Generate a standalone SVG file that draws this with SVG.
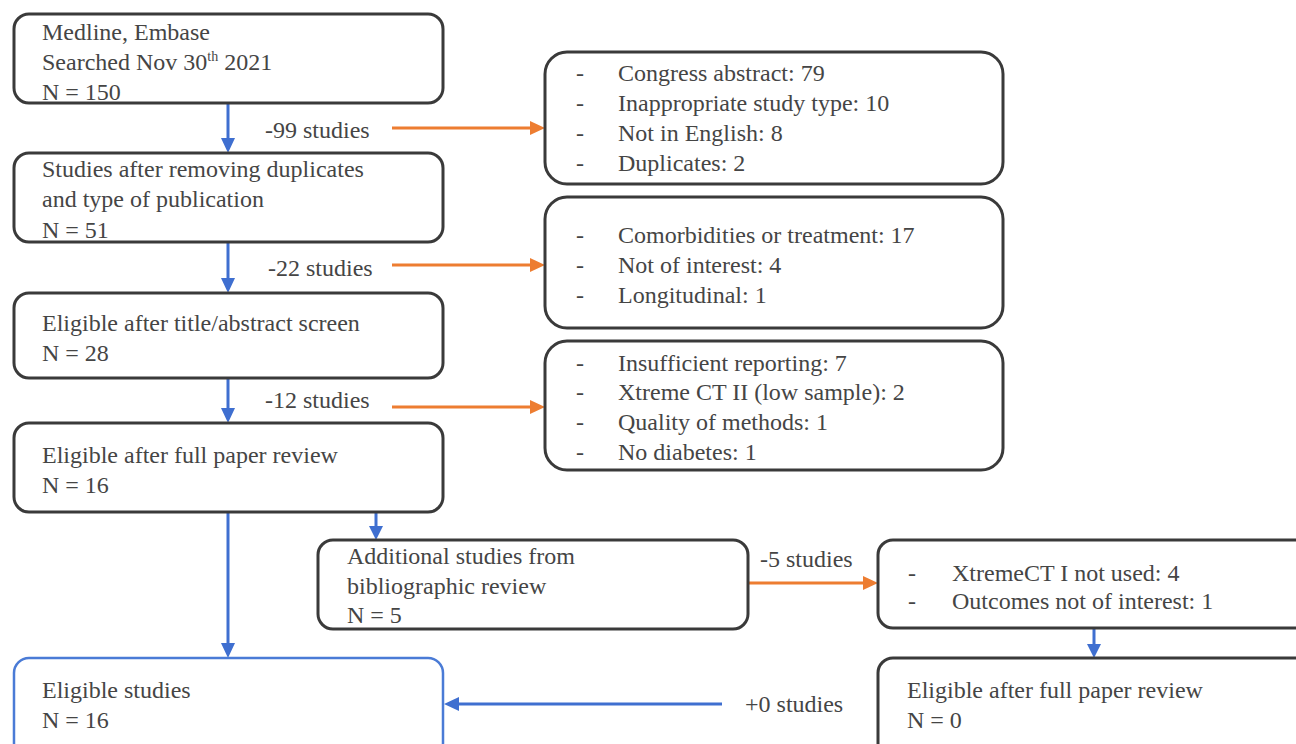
<svg xmlns="http://www.w3.org/2000/svg" width="1296" height="744" viewBox="0 0 1296 744">
<defs>
<style>
text{font-family:'Liberation Serif','Times New Roman',Times,serif;font-size:24px;fill:#454545}
.box{fill:#fff;stroke:#3a3a3a;stroke-width:3}
.bbox{fill:#fff;stroke:#4a7bd6;stroke-width:2.5}
.cb{stroke:#3f6fd0;stroke-width:3;fill:none}
.co{stroke:#ed7d31;stroke-width:3;fill:none}
.hb{fill:#3f6fd0}
.ho{fill:#ed7d31}
</style>
</defs>
<rect width="1296" height="744" fill="#fff"/>
<g id="connectors">
<line class="cb" x1="228" y1="104" x2="228" y2="140"/><polygon class="hb" points="221,138 235,138 228,153"/>
<line class="cb" x1="228" y1="243" x2="228" y2="280"/><polygon class="hb" points="221,278 235,278 228,293"/>
<line class="cb" x1="228" y1="378" x2="228" y2="410"/><polygon class="hb" points="221,408 235,408 228,423"/>
<line class="cb" x1="228" y1="513" x2="228" y2="645"/><polygon class="hb" points="221,643 235,643 228,658"/>
<line class="cb" x1="376" y1="513" x2="376" y2="528"/><polygon class="hb" points="369,526 383,526 376,540"/>
<line class="cb" x1="1094" y1="629" x2="1094" y2="646"/><polygon class="hb" points="1087,644 1101,644 1094,658"/>
<line class="cb" x1="722" y1="704" x2="456" y2="704"/><polygon class="hb" points="459,697 459,711 444,704"/>
<line class="co" x1="392" y1="128" x2="532" y2="128"/><polygon class="ho" points="530,121 530,135 545,128"/>
<line class="co" x1="392" y1="265" x2="532" y2="265"/><polygon class="ho" points="530,258 530,272 545,265"/>
<line class="co" x1="392" y1="407" x2="532" y2="407"/><polygon class="ho" points="530,400 530,414 545,407"/>
<line class="co" x1="748" y1="583" x2="865" y2="583"/><polygon class="ho" points="863,576 863,590 878,583"/>
<text x="265" y="138">-99 studies</text>
<text x="268" y="276">-22 studies</text>
<text x="265" y="408">-12 studies</text>
<text x="760" y="567">-5 studies</text>
<text x="745" y="712">+0 studies</text>
</g>
<g id="n1"><rect class="box" x="14" y="14" width="429" height="89" rx="15"/>
<text x="42" y="40">Medline, Embase</text>
<text x="42" y="70">Searched Nov 30<tspan font-size="14" dy="-9">th</tspan><tspan dy="9"> 2021</tspan></text>
<text x="42" y="100">N = 150</text></g>
<g id="n2"><rect class="box" x="14" y="153" width="429" height="89" rx="15"/>
<text x="42" y="177">Studies after removing duplicates</text>
<text x="42" y="207">and type of publication</text>
<text x="42" y="238">N = 51</text></g>
<g id="n3"><rect class="box" x="14" y="293" width="429" height="85" rx="15"/>
<text x="42" y="331">Eligible after title/abstract screen</text>
<text x="42" y="361">N = 28</text></g>
<g id="n4"><rect class="box" x="14" y="423" width="429" height="89" rx="15"/>
<text x="42" y="463">Eligible after full paper review</text>
<text x="42" y="493">N = 16</text></g>
<g id="n5"><rect class="bbox" x="14" y="658" width="429" height="100" rx="15"/>
<text x="42" y="698">Eligible studies</text>
<text x="42" y="728">N = 16</text></g>
<g id="r1"><rect class="box" x="545" y="52" width="458" height="132" rx="22"/>
<text x="576" y="81">-</text><text x="618" y="81">Congress abstract: 79</text>
<text x="576" y="111">-</text><text x="618" y="111">Inappropriate study type: 10</text>
<text x="576" y="141">-</text><text x="618" y="141">Not in English: 8</text>
<text x="576" y="171">-</text><text x="618" y="171">Duplicates: 2</text></g>
<g id="r2"><rect class="box" x="545" y="197" width="458" height="131" rx="22"/>
<text x="576" y="243">-</text><text x="618" y="243">Comorbidities or treatment: 17</text>
<text x="576" y="273">-</text><text x="618" y="273">Not of interest: 4</text>
<text x="576" y="303">-</text><text x="618" y="303">Longitudinal: 1</text></g>
<g id="r3"><rect class="box" x="545" y="341" width="458" height="129" rx="22"/>
<text x="576" y="371">-</text><text x="618" y="371">Insufficient reporting: 7</text>
<text x="576" y="400">-</text><text x="618" y="400">Xtreme CT II (low sample): 2</text>
<text x="576" y="430">-</text><text x="618" y="430">Quality of methods: 1</text>
<text x="576" y="460">-</text><text x="618" y="460">No diabetes: 1</text></g>
<g id="n6"><rect class="box" x="318" y="540" width="430" height="89" rx="15"/>
<text x="347" y="564">Additional studies from</text>
<text x="347" y="594">bibliographic review</text>
<text x="347" y="623">N = 5</text></g>
<g id="n7"><rect class="box" x="878" y="540" width="440" height="88" rx="15"/>
<text x="908" y="581">-</text><text x="952" y="581">XtremeCT I not used: 4</text>
<text x="908" y="609">-</text><text x="952" y="609">Outcomes not of interest: 1</text></g>
<g id="n8"><rect class="box" x="878" y="658" width="440" height="100" rx="15"/>
<text x="907" y="698">Eligible after full paper review</text>
<text x="907" y="728">N = 0</text></g>
</svg>
